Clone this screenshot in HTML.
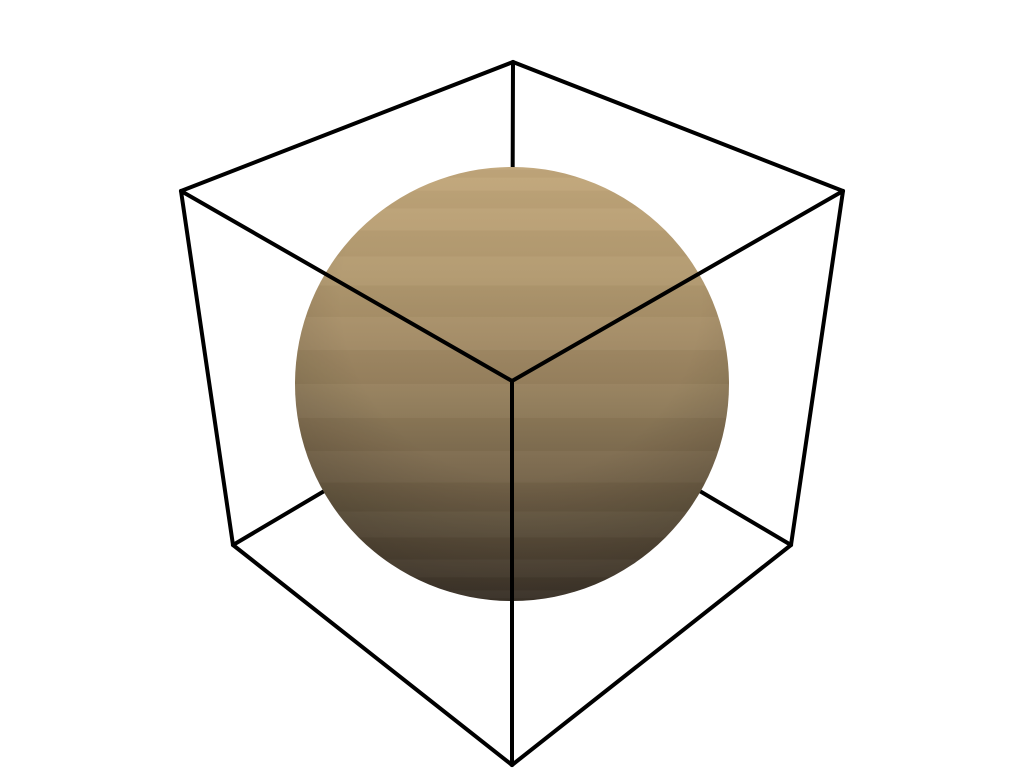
<!DOCTYPE html>
<html>
<head>
<meta charset="utf-8">
<style>
  html,body{margin:0;padding:0;background:#fff;}
  svg{display:block;}
</style>
</head>
<body>
<svg id="scene" width="1024" height="768" viewBox="0 0 1024 768" xmlns="http://www.w3.org/2000/svg">
  <defs>
    <linearGradient id="shade" x1="0" y1="0" x2="0" y2="1">
      <stop offset="0" stop-color="#c2a77b"/>
      <stop offset="0.25" stop-color="#b39a70"/>
      <stop offset="0.5" stop-color="#98825f"/>
      <stop offset="0.72" stop-color="#76654a"/>
      <stop offset="0.88" stop-color="#5a4d3b"/>
      <stop offset="1" stop-color="#463c30"/>
    </linearGradient>
    <radialGradient id="rim" cx="0.52" cy="0.3" r="0.75">
      <stop offset="0.55" stop-color="#000" stop-opacity="0"/>
      <stop offset="1" stop-color="#000" stop-opacity="0.22"/>
    </radialGradient>
  </defs>
  <g id="back-edges"></g>
  <g id="sphere-group">
    <circle cx="512" cy="384" r="217" fill="url(#shade)"/>
    <circle cx="512" cy="384" r="217" fill="url(#rim)"/>
    <g id="bands"></g>
  </g>
  <g id="front-edges"></g>
</svg>
<script>
const vertexNames = ["topBack","topLeft","topRight","topFront","bottomLeft","bottomRight","bottomFront","bottomBack"];
const vertexX = [513,181,843,512,233,791,512,512];
const vertexY = [62,191,191,381,545,545,765,380];
const backEdges = [["topBack","bottomBack"],["bottomLeft","bottomBack"],["bottomRight","bottomBack"]];
const frontEdges = [["topLeft","topBack"],["topBack","topRight"],["topLeft","topFront"],["topRight","topFront"],["topFront","bottomFront"],["bottomLeft","bottomFront"],["bottomRight","bottomFront"],["topLeft","bottomLeft"],["topRight","bottomRight"]];

const NS = "http://www.w3.org/2000/svg";
function pt(n){const i=vertexNames.indexOf(n);return [vertexX[i],vertexY[i]];}
function drawEdges(list, gid){
  const g=document.getElementById(gid);
  list.forEach(e=>{
    const a=pt(e[0]), b=pt(e[1]);
    const l=document.createElementNS(NS,"line");
    l.setAttribute("x1",a[0]);l.setAttribute("y1",a[1]);
    l.setAttribute("x2",b[0]);l.setAttribute("y2",b[1]);
    l.setAttribute("stroke","#000");l.setAttribute("stroke-width","4");
    l.setAttribute("stroke-linecap","round");
    
    
    g.appendChild(l);
  });
}
drawEdges(backEdges,"back-edges");
drawEdges(frontEdges,"front-edges");

// subtle faceted latitude bands
const bands=document.getElementById("bands");
const cx=512, cy=384, R=217, nb=20;
const clip=document.createElementNS(NS,"clipPath");clip.setAttribute("id","sc");
const cc=document.createElementNS(NS,"circle");cc.setAttribute("cx",cx);cc.setAttribute("cy",cy);cc.setAttribute("r",R);
clip.appendChild(cc);document.querySelector("defs").appendChild(clip);
bands.setAttribute("clip-path","url(#sc)");
for(let i=0;i<nb;i++){
  const t0=Math.PI*i/nb, t1=Math.PI*(i+1)/nb;
  const y0=cy-R*Math.cos(t0), y1=cy-R*Math.cos(t1);
  const r=document.createElementNS(NS,"rect");
  r.setAttribute("x",cx-R);r.setAttribute("y",y0);
  r.setAttribute("width",2*R);r.setAttribute("height",y1-y0);
  r.setAttribute("fill",i%2?"#000":"#fff");
  r.setAttribute("opacity","0.025");
  
  
  bands.appendChild(r);
}
</script>
</body>
</html>
